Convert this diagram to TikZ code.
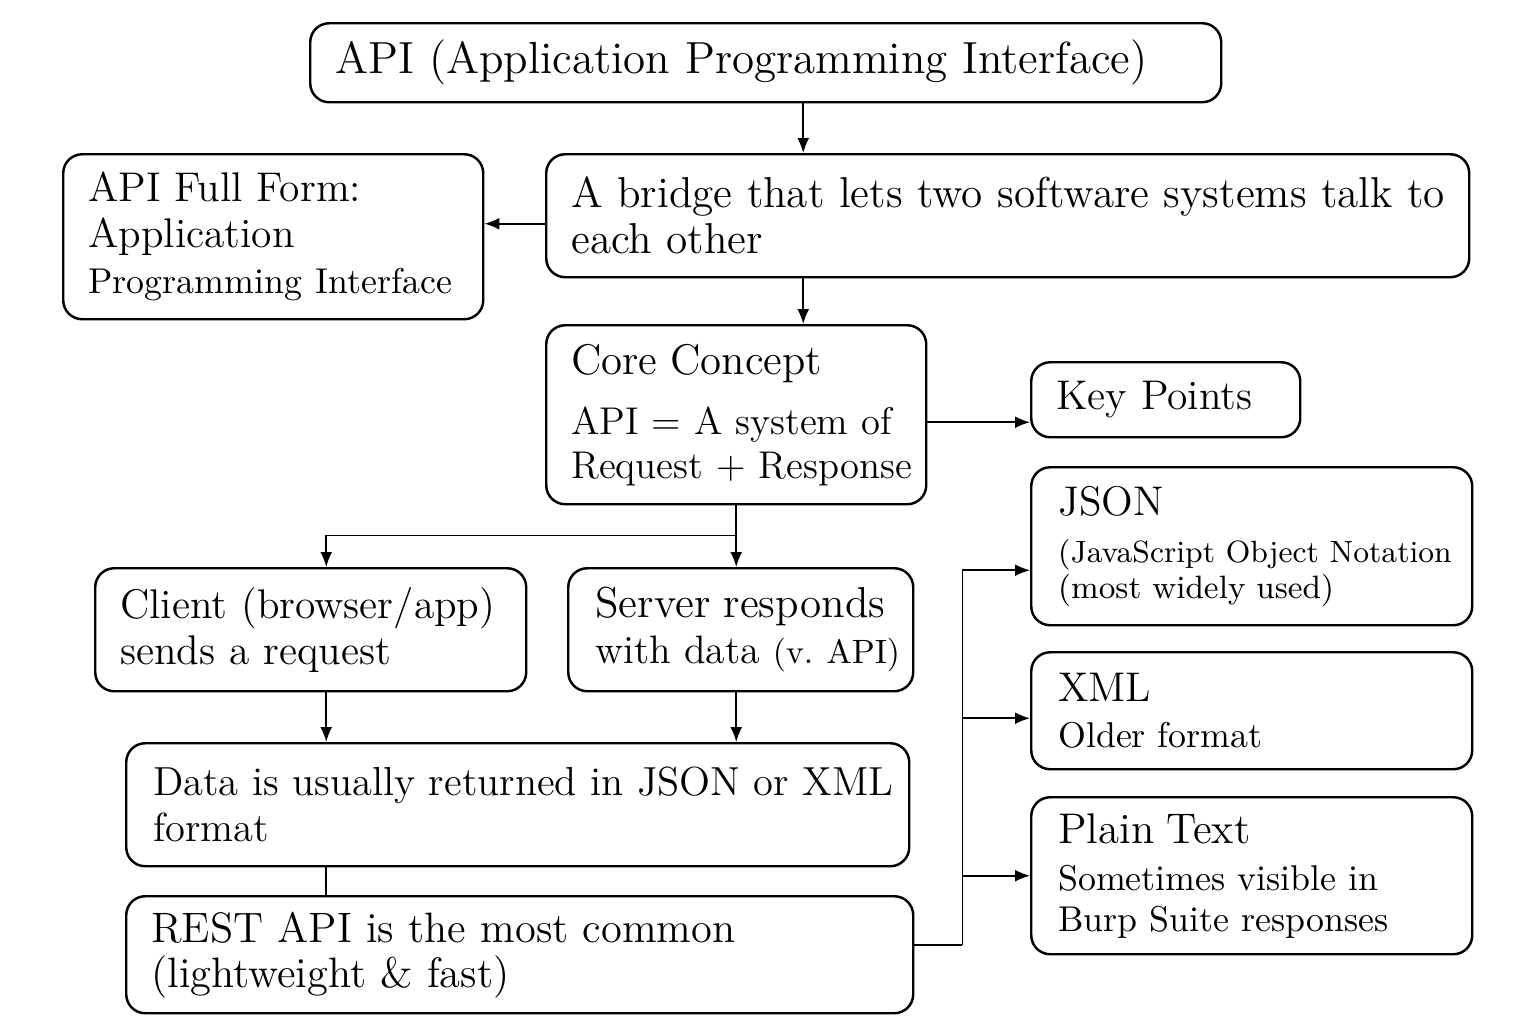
\documentclass[tikz,border=0pt]{standalone}
\usetikzlibrary{arrows.meta}
\begin{document}
\begin{tikzpicture}
            [box/.style = {draw, rounded corners = 0.19cm, line width = 0.7pt, anchor = north west, align = left, inner xsep = 0.25cm, inner ysep = 0pt, font = \fontsize{11.8}{13.1}\selectfont},
             small/.style = {font = \fontsize{10.2}{11.7}\selectfont},
             link/.style = {line width = 0.5pt, -{Latex[length = 0.15cm, width = 0.12cm]}}]
            \useasboundingbox (0,0) rectangle (15.36,-10.24);
            \node[box, text width = 8.61cm, minimum height = 0.79cm, font = \fontsize{12.8}{14}\selectfont] (A) at (3.09,-0.22) {API (Application Programming Interface)};
            \node[box, text width = 8.73cm, minimum height = 1.23cm, font = \fontsize{12.3}{13.1}\selectfont] (B) at (5.45,-1.53) {\mbox{A bridge that lets two software systems talk to}\\ each other};
            \node[box, text width = 3.70cm, minimum height = 1.65cm] (C) at (0.62,-1.53) {API Full Form:\\ Application\\ {\fontsize{10.2}{11.7}\selectfont Programming Interface}};
            \node[box, text width = 3.30cm, minimum height = 1.79cm, font = \fontsize{11}{12.5}\selectfont] (D) at (5.45,-3.24) {{\fontsize{12.2}{13}\selectfont Core Concept}\\[0.16cm] \mbox{API = A system of}\\ \mbox{Request + Response}};
            \node[box, text width = 2.19cm, minimum height = 0.75cm] (E) at (10.30,-3.61) {Key Points};
            \node[box, text width = 3.81cm, minimum height = 1.23cm] (F) at (0.94,-5.67) {Client (browser/app)\\ sends a request};
            \node[box, text width = 2.91cm, minimum height = 1.23cm, inner xsep = 0.27cm, font = \fontsize{11.3}{13.1}\selectfont] (G) at (5.67,-5.67) {{\fontsize{12.3}{13.1}\selectfont Server responds}\\ \mbox{with data {\fontsize{9.6}{11}\selectfont(v.\ API)}}};
            \node[box, text width = 7.29cm, minimum height = 1.23cm, inner xsep = 0.27cm, font = \fontsize{11.55}{13.1}\selectfont] (H) at (1.25,-7.42) {\mbox{Data is usually returned in JSON or XML}\\ format};
            \node[box, text width = 7.37cm, minimum height = 1.17cm, font = \fontsize{12.1}{12.8}\selectfont] (I) at (1.25,-8.95) {REST API is the most common\\ (lightweight \& fast)};
            \node[box, text width = 3.87cm, minimum height = 1.58cm, inner xsep = 0.27cm, font = \fontsize{9.2}{10.3}\selectfont] (J) at (10.30,-4.66) {{\fontsize{11.8}{13.1}\selectfont JSON}\\[0.11cm] \mbox{\fontsize{8.75}{10.3}\selectfont (JavaScript Object Notation}\\ (most widely used)};
            \node[box, small, text width = 3.87cm, minimum height = 1.17cm, inner xsep = 0.27cm] (K) at (10.30,-6.51) {{\fontsize{11.8}{13.1}\selectfont XML}\\[0.05cm] Older format};
            \node[box, small, text width = 3.87cm, minimum height = 1.57cm, inner xsep = 0.27cm] (L) at (10.30,-7.96) {{\fontsize{12.2}{13.1}\selectfont Plain Text}\\[0.06cm] Sometimes visible in\\ Burp Suite responses};
            \coordinate (M) at ([xshift = 0.375cm]A.south);
            \draw[link] (M) -- (M |- B.north);
            \draw[link] ([yshift = -0.08cm]B.west) -- ([yshift = -0.08cm]B.west -| C.east);
            \draw[link] (M |- B.south) -- (M |- D.north);
            \draw[link] ([yshift = -0.075cm]D.east) -- ([yshift = -0.075cm]D.east -| E.west);
            \draw[line width = 0.5pt] (D.south) -- ++(0,-0.30) coordinate (N);
            \draw[link] (N) -| ([xshift = 0.155cm]F.north);
            \draw[link] (N) -- (N |- G.north);
            \draw[link] ([xshift = 0.155cm]F.south) -- ([xshift = 0.155cm]F.south |- H.north);
            \draw[link] (N |- G.south) -- (N |- H.north);
            \draw[line width = 0.5pt] ([xshift = 0.155cm]F.south |- H.south) -- ([xshift = 0.155cm]F.south |- I.north);
            \draw[line width = 0.5pt] ([yshift = 0.1cm]I.east) -- ++(0.48,0) coordinate (O);
            \draw[link] (O) |- ([yshift = -0.24cm]J.west);
            \draw[link] (O) |- ([yshift = -0.075cm]K.west);
            \draw[link] (O) |- (L.west);
        \end{tikzpicture}
\end{document}
